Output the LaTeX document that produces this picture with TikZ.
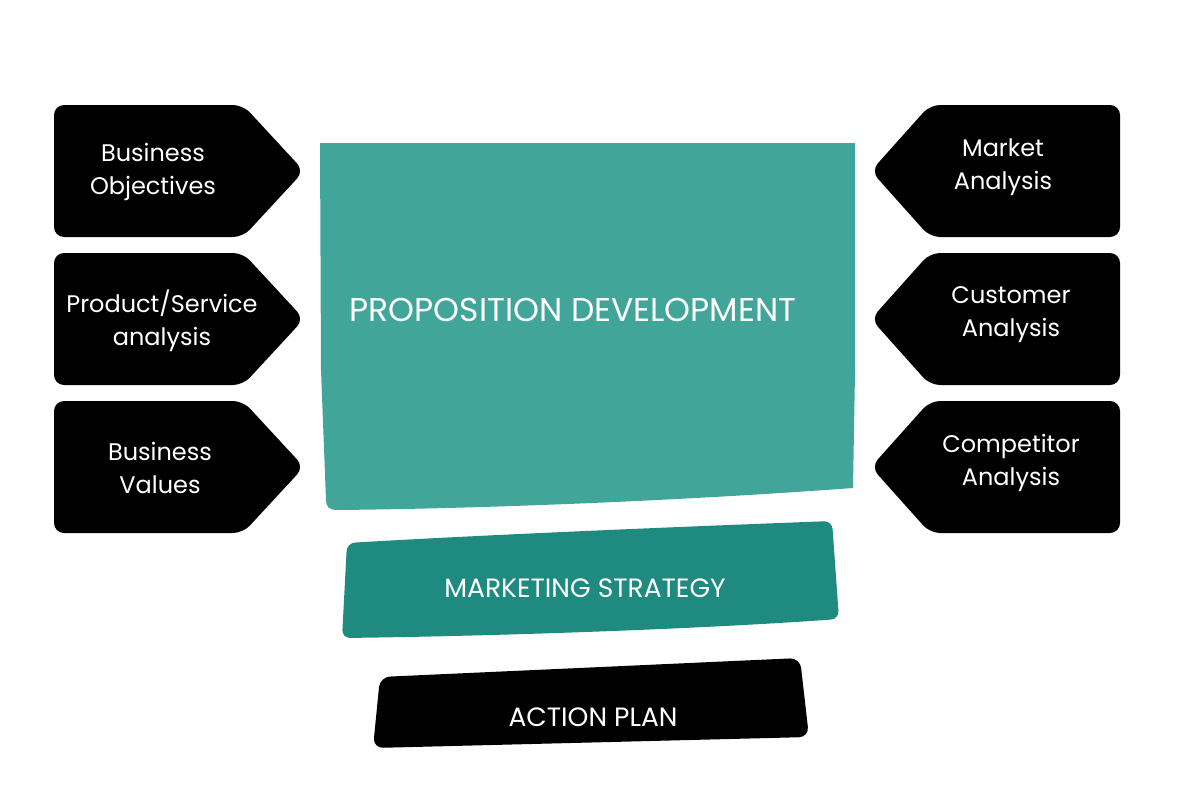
\documentclass[tikz,border=0pt]{standalone}
\usepackage{fontspec}
\setmainfont{Poppins}
\definecolor{propteal}{RGB}{66,165,154}
\definecolor{mktteal}{RGB}{31,138,128}
\tikzset{
  tag/.style={fill=black, rounded corners=10pt},
  tagtext/.style={text=white, align=center, font=\fontsize{24}{33}\selectfont},
  bandtext/.style={text=white, font=\fontsize{26.5}{30}\selectfont},
}
\begin{document}
\begin{tikzpicture}[x=1pt, y=-1pt]
    \useasboundingbox (0,0) rectangle (1200,800);
    % Tags left
    \foreach \y in {105,253,401} {
        \fill[tag] (54,\y) -- (243,\y) -- (304,\y+66) -- (243,\y+132) -- (54,\y+132) -- cycle;
    }
    % Tags right
    \foreach \y in {105,253,401} {
        \fill[tag] (1120,\y) -- (930,\y) -- (871,\y+66) -- (930,\y+132) -- (1120,\y+132) -- cycle;
    }
    % Proposition block
    \fill[propteal] (320,143) -- (855,143) -- (855,372) -- (853,488)
        .. controls (650,503) and (450,509) .. (336,510)
        .. controls (329,510) and (326,506) .. (326,500) -- (321,370) -- cycle;
    % Marketing band
    \fill[mktteal, rounded corners=8pt] (347,543) .. controls (500,534) and (700,526) .. (832,521)
        -- (839,619) .. controls (700,629) and (500,636) .. (342,638) -- cycle;
    % Action band
    \fill[black, rounded corners=10pt] (380,677) -- (800,658) -- (809,737) -- (373,748) -- cycle;
    % Labels
    \node[tagtext] (bobj) at (153,172) {Business\\Objectives};
    \node[tagtext] (psa)  at (162,321) {Product/Service\\analysis};
    \node[tagtext] (bval) at (160,468) {Business\\Values};
    \node[tagtext] (mana) at (1003,167) {Market\\Analysis};
    \node[tagtext] (cust) at (1011,315) {Customer\\Analysis};
    \node[tagtext] (comp) at (1011,463) {Competitor\\Analysis};
    \node[text=white, font=\fontsize{33}{38}\selectfont] (prop) at (573,310) {PROPOSITION DEVELOPMENT};
    \node[bandtext] (mkt) at (585,588) {MARKETING STRATEGY};
    \node[bandtext] (act) at (593,717) {ACTION PLAN};
\end{tikzpicture}
\end{document}
